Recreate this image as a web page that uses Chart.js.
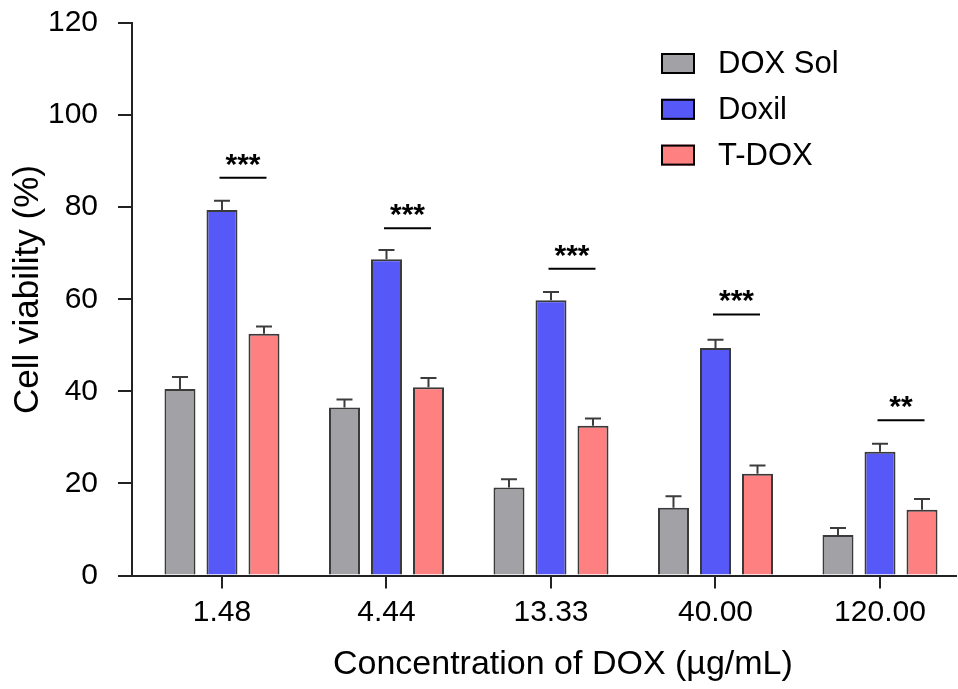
<!DOCTYPE html>
<html>
<head>
<meta charset="utf-8">
<script src="https://cdn.jsdelivr.net/npm/chart.js@4.4.1/dist/chart.umd.min.js"></script>
<style>
  html, body { margin: 0; padding: 0; background: #fff; }
  #wrap { width: 958px; height: 689px; }
</style>
</head>
<body>
<div id="wrap"><canvas id="myChart" width="958" height="689"></canvas></div>
<script>
var concLabels = ["1.48", "4.44", "13.33", "40.00", "120.00"];
var seriesNames = ["DOX Sol", "Doxil", "T-DOX"];
var doxSol = [40.5, 36.5, 19.1, 14.7, 8.8];
var doxil = [79.4, 68.7, 59.8, 49.4, 26.9];
var tDox = [52.5, 40.9, 32.5, 22.1, 14.3];
var doxSolErr = [2.6, 1.7, 1.8, 2.5, 1.5];
var doxilErr = [2.0, 2.0, 1.8, 1.8, 1.7];
var tDoxErr = [1.6, 2.0, 1.6, 1.8, 2.3];
var sigMarks = ["***", "***", "***", "***", "**"];
var sigLevel = [86.4, 75.4, 66.6, 56.7, 33.7];
var yTicks = [0, 20, 40, 60, 80, 100, 120];

var FONT = "'Liberation Sans', Arial, sans-serif";
Chart.defaults.font.family = FONT;
Chart.defaults.color = "#000";

function toPoints(arr) {
    return arr.map(function (v, i) { return { x: i, y: v }; });
}

// error bars (upper only) on top of each bar
var errorBars = {
    id: "errorBars",
    afterDatasetsDraw: function (chart) {
        var ctx = chart.ctx;
        var y = chart.scales.y;
        var vals = [doxSol, doxil, tDox];
        var errs = [doxSolErr, doxilErr, tDoxErr];
        ctx.save();
        ctx.strokeStyle = "#3c3c3c";
        ctx.lineWidth = 2;
        chart.data.datasets.forEach(function (ds, d) {
            chart.getDatasetMeta(d).data.forEach(function (bar, i) {
                var top = y.getPixelForValue(vals[d][i] + errs[d][i]);
                ctx.beginPath();
                ctx.moveTo(bar.x, bar.y);
                ctx.lineTo(bar.x, top);
                ctx.moveTo(bar.x - 8, top);
                ctx.lineTo(bar.x + 8, top);
                ctx.stroke();
            });
        });
        ctx.restore();
    }
};

// significance line + stars between Doxil and T-DOX
var sigBars = {
    id: "sigBars",
    afterDatasetsDraw: function (chart) {
        var ctx = chart.ctx;
        var y = chart.scales.y;
        var blue = chart.getDatasetMeta(1).data;
        var red = chart.getDatasetMeta(2).data;
        ctx.save();
        ctx.strokeStyle = "#000";
        ctx.lineWidth = 2;
        ctx.fillStyle = "#000";
        ctx.font = "bold 30px " + FONT;
        ctx.textAlign = "center";
        ctx.textBaseline = "alphabetic";
        sigMarks.forEach(function (m, i) {
            var mid = (blue[i].x + red[i].x) / 2;
            var ly = y.getPixelForValue(sigLevel[i]);
            ctx.beginPath();
            ctx.moveTo(mid - 23.5, ly);
            ctx.lineTo(mid + 23.5, ly);
            ctx.stroke();
            ctx.fillText(m, mid, ly - 4);
        });
        ctx.restore();
    }
};

// legend in the top right of the plot
var boxLegend = {
    id: "boxLegend",
    afterDraw: function (chart) {
        var ctx = chart.ctx;
        ctx.save();
        ctx.font = "31px " + FONT;
        ctx.textBaseline = "middle";
        ctx.textAlign = "left";
        chart.data.datasets.forEach(function (ds, d) {
            var cy = 63.5 + d * 45.8;
            ctx.fillStyle = ds.backgroundColor;
            ctx.fillRect(661, cy - 10.5, 34, 21);
            ctx.strokeStyle = ds.borderColor;
            ctx.lineWidth = 2;
            ctx.strokeRect(662, cy - 9.5, 32, 19);
            ctx.fillStyle = "#000";
            ctx.fillText(ds.label, 718, cy + 1);
        });
        ctx.restore();
    }
};

new Chart("myChart", {
    type: "bar",
    data: {
        datasets: [
            { label: seriesNames[0], data: toPoints(doxSol), backgroundColor: "#a2a1a6" },
            { label: seriesNames[1], data: toPoints(doxil), backgroundColor: "#5658f8" },
            { label: seriesNames[2], data: toPoints(tDox), backgroundColor: "#fe8080" }
        ]
    },
    options: {
        responsive: false,
        animation: false,
        layout: { padding: { top: 23, right: 2, left: 0, bottom: 0 } },
        datasets: {
            bar: {
                borderColor: "#3a3a3a",
                borderWidth: 2,
                categoryPercentage: 0.766,
                barPercentage: 0.738
            }
        },
        plugins: {
            legend: { display: false },
            tooltip: { enabled: false }
        },
        scales: {
            x: {
                type: "linear",
                min: -0.547,
                max: 4.462,
                offset: false,
                bounds: "data",
                grid: { offset: false, drawOnChartArea: false, tickLength: 13, color: "#222", lineWidth: 2 },
                border: { color: "#222", width: 2 },
                afterBuildTicks: function (s) {
                    s.ticks = concLabels.map(function (c, i) { return { value: i }; });
                },
                ticks: {
                    callback: function (v) { return concLabels[v]; },
                    font: { size: 30 },
                    color: "#000",
                    padding: 6,
                    maxRotation: 0,
                    autoSkip: false
                },
                title: {
                    display: true,
                    text: "    Concentration of DOX (µg/mL)",
                    font: { size: 34 },
                    color: "#000",
                    padding: { top: 0, bottom: 4 }
                },
                afterFit: function (s) {
                    s.height = 113.5;
                    s.paddingLeft = 0;
                    s.paddingRight = 0;
                }
            },
            y: {
                min: 0,
                max: 120,
                afterBuildTicks: function (s) {
                    s.ticks = yTicks.map(function (v) { return { value: v }; });
                },
                grid: { drawOnChartArea: false, tickLength: 14, color: "#222", lineWidth: 2 },
                border: { color: "#222", width: 2 },
                ticks: { font: { size: 30 }, color: "#000", padding: 20 },
                title: {
                    display: true,
                    text: "  Cell viability (%)",
                    font: { size: 35 },
                    color: "#000",
                    padding: { top: 7, bottom: 0 }
                },
                afterFit: function (s) {
                    s.width = 132;
                    s.paddingTop = 0;
                    s.paddingBottom = 0;
                }
            }
        }
    },
    plugins: [errorBars, sigBars, boxLegend]
});
</script>
</body>
</html>
